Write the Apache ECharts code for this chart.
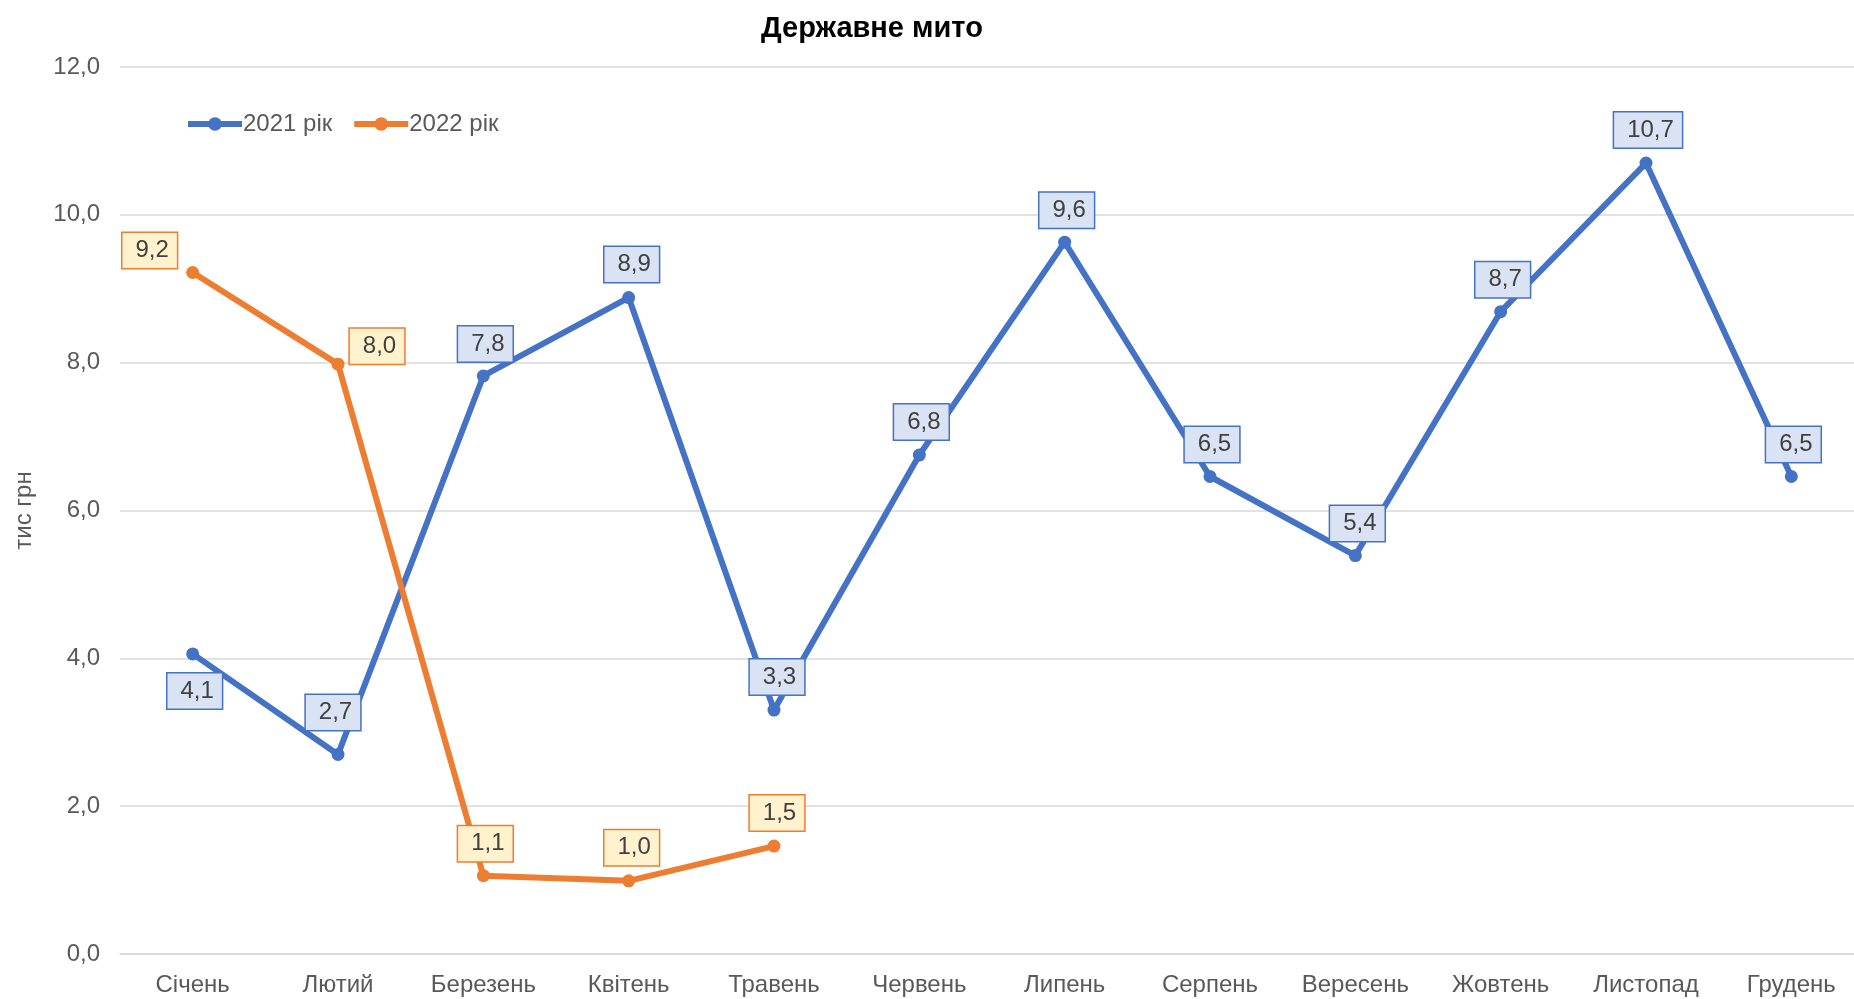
<!DOCTYPE html>
<html>
<head>
<meta charset="utf-8">
<script src="https://cdn.jsdelivr.net/npm/echarts@6/dist/echarts.min.js"></script>
<style>
	html,body{margin:0;padding:0;background:#fff;overflow:hidden;}
	#chart{width:1864px;height:999px;}
</style>
</head>
<body>
<div id="chart"></div>
<script>
	// місяці
	var months = ['Січень','Лютий','Березень','Квітень','Травень','Червень','Липень','Серпень','Вересень','Жовтень','Листопад','Грудень'];
	// тис грн
	var y2021 = [4.06, 2.70, 7.82, 8.88, 3.30, 6.75, 9.63, 6.46, 5.39, 8.69, 10.70, 6.46];
	var y2022 = [9.22, 7.98, 1.06, 0.99, 1.46];
	var yTicks = [0, 2, 4, 6, 8, 10, 12];

	// зсув підписів відносно точки
	var off2021 = [[2,37],[-5,-42],[2,-32],[3,-33],[3,-33],[2,-33],[2,-32],[2,-32],[2,-32],[2,-32],[2,-33],[2,-32]];
	var off2022 = [[-43,-22],[39,-18],[2,-32],[3,-33],[3,-33]];

	function fmt(v){
		return v.toFixed(1).replace('.', ',');
	}

	function buildData(vals, offs, bg, border){
		return vals.map(function(v, i){
			return {
				value: v,
				label: {
					show: true,
					position: 'inside',
					offset: offs[i],
					formatter: function(p){ return fmt(p.value); },
					backgroundColor: bg,
					borderColor: border,
					borderWidth: 1.5,
					padding: [6, 8, 5, 13],
					color: '#404040',
					fontSize: 24,
					fontFamily: 'Liberation Sans, Arial, sans-serif'
				}
			};
		});
	}

	var myChart = echarts.init(document.getElementById('chart'));
	var option = {
		backgroundColor: '#fff',
		animation: false,
		textStyle: {fontFamily: 'Liberation Sans, Arial, sans-serif'},
		title: {
			text: 'Державне мито',
			left: 756,
			top: 9,
			textStyle: {fontSize: 29, fontWeight: 'bold', color: '#000', fontFamily: 'Liberation Sans, Arial, sans-serif'}
		},
		legend: {
			left: 180,
			top: 107,
			itemWidth: 54,
			itemHeight: 17,
			itemGap: 19,
			lineStyle: {width: 6},
			textStyle: {fontSize: 24, color: '#595959', padding: [0,0,0,-4]},
			data: ['2021 рік', '2022 рік']
		},
		grid: {left: 120, top: 67, right: 0, height: 887, containLabel: false},
		xAxis: {
			type: 'category',
			data: months,
			boundaryGap: true,
			axisLine: {show: true, lineStyle: {color: '#d9d9d9', width: 1.5}},
			axisTick: {show: false},
			axisLabel: {fontSize: 24, color: '#595959', margin: 19}
		},
		yAxis: {
			type: 'value',
			min: yTicks[0],
			max: yTicks[yTicks.length - 1],
			interval: 2,
			name: 'тис грн',
			nameLocation: 'middle',
			nameRotate: 90,
			nameGap: 84,
			nameTextStyle: {fontSize: 24, color: '#595959'},
			axisLine: {show: false},
			axisTick: {show: false},
			axisLabel: {fontSize: 24, color: '#595959', margin: 20, formatter: function(v){ return fmt(v); }},
			splitLine: {lineStyle: {color: '#d9d9d9', width: 1.5}}
		},
		series: [
			{
				name: '2021 рік',
				type: 'line',
				data: buildData(y2021, off2021, '#dae3f3', '#4472c4'),
				symbol: 'circle',
				symbolSize: 13,
				lineStyle: {width: 6, color: '#4472c4'},
				itemStyle: {color: '#4472c4'},
				z: 2
			},
			{
				name: '2022 рік',
				type: 'line',
				data: buildData(y2022, off2022, '#fff2cc', '#ed7d31'),
				symbol: 'circle',
				symbolSize: 13,
				lineStyle: {width: 6, color: '#ed7d31'},
				itemStyle: {color: '#ed7d31'},
				z: 3
			}
		]
	};
	myChart.setOption(option);
</script>
</body>
</html>
